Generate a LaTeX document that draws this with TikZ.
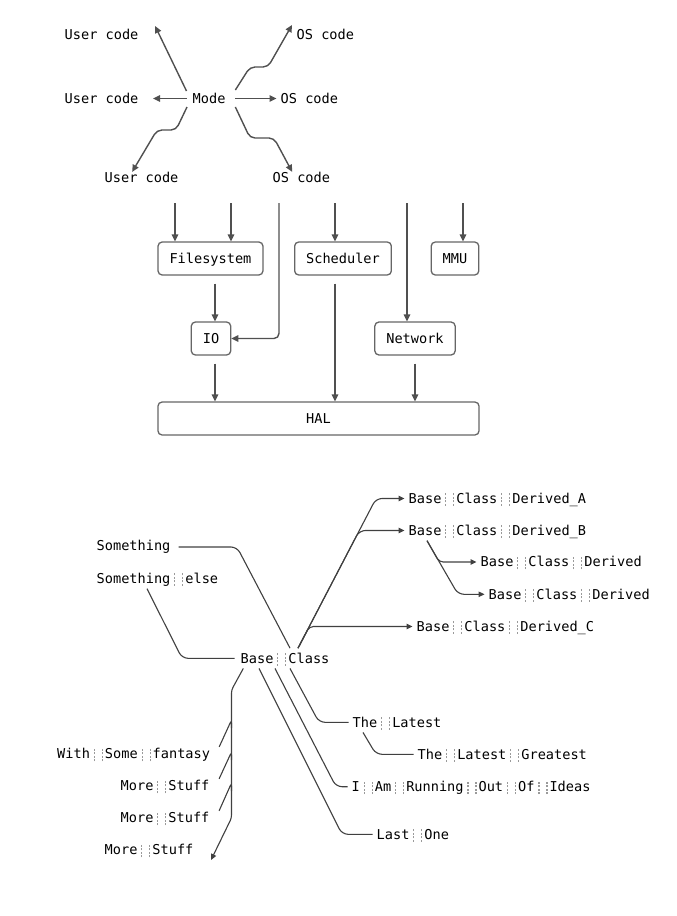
\documentclass[tikz,border=0pt]{standalone}
\usepackage{fontspec}
\setmonofont{DejaVu Sans Mono}
\usetikzlibrary{arrows.meta,calc}
\definecolor{linec}{HTML}{505050}
\definecolor{linecb}{HTML}{404040}
\definecolor{boxc}{HTML}{666666}
\definecolor{sepc}{HTML}{9A9A9A}
\newcommand\dotcol{\lower2.5pt\vbox to 14pt{\cleaders\vbox to 3.5pt{\vss\hrule height 2pt width 1.1pt}\vfill}}
\newcommand\wsep{\hspace{3.9pt}{\color{sepc}\dotcol}\hspace{6.9pt}{\color{sepc}\dotcol}\hspace{2.0pt}}
\tikzset{
  basefont/.style={font=\ttfamily\fontsize{13.6}{16}\selectfont, text=black},
  lbl/.style={basefont, inner sep=0pt, text height=9.9pt, text depth=0pt, anchor=west},
  boxnode/.style={basefont, draw=boxc, line width=1.3pt, rounded corners=4pt, fill=white,
    inner xsep=11.5pt, inner ysep=11.5pt, text height=9.9pt, text depth=0pt},
  tag/.style={basefont, inner xsep=4pt, inner ysep=5pt, text height=9.9pt, text depth=0pt, anchor=west},
  link/.style={draw=linec, line width=1.4pt, rounded corners=5pt},
  arr/.style={link, -{Triangle[length=7pt,width=6.5pt]}},
  thinlink/.style={draw=linecb, line width=1.1pt, rounded corners=6pt},
  tarr/.style={thinlink, -{Triangle[length=6pt,width=5.5pt]}},
}
\begin{document}
\begin{tikzpicture}[x=1pt,y=-1pt]
\useasboundingbox (0,0) rectangle (677,916);

% ---------- top: Mode ----------
\node[lbl] (uc1) at (64.5,34.5) {User code};
\node[lbl] (oc1) at (296.5,34.5) {OS code};
\node[lbl] (uc2) at (64.5,98.5) {User code};
\node[lbl] (mode) at (192.5,98.5) {Mode};
\node[lbl] (oc2) at (280.5,98.5) {OS code};
\node[lbl] (uc3) at (104.5,178) {User code};
\node[lbl] (oc3) at (272.5,178) {OS code};

\draw[arr] ($(mode.west)+(-6,-7.5)$) -- ($(uc1.east)+(16.5,-8.5)$);
\draw[arr] ($(mode.west)+(-6,0)$) -- ($(uc2.east)+(14.5,0)$);
\draw[arr] ($(mode.east)+(9.7,0)$) -- ($(oc2.west)+(-4,0)$);
\draw[arr] ($(mode.east)+(9.7,-8.5)$) -- (250,67) -- (268,67) -- ($(oc1.west)+(-4.5,-9.5)$);
\draw[arr] ($(mode.west)+(-5.5,8.5)$) -- (176,130) -- (157,130) -- ($(uc3.north)+(-9.4,-1)$);
\draw[arr] ($(mode.east)+(9.7,8.5)$) -- (250,138) -- (274,138) -- ($(oc3.north)+(-9.2,-1)$);

% ---------- middle: boxes ----------
\node[boxnode] (fs) at (210.5,258.5) {Filesystem};
\node[boxnode] (sch) at (343,258.5) {Scheduler};
\node[boxnode] (mmu) at (455,258.5) {MMU};
\node[boxnode] (io) at (211,338.5) {IO};
\node[boxnode] (net) at (415,338.5) {Network};
\node[boxnode, minimum width=321pt] (hal) at (318.5,418.5) {HAL};

\coordinate (in1) at (175,203);
\coordinate (in2) at (231,203);
\coordinate (in3) at (279,203);
\coordinate (in4) at (335,203);
\coordinate (in5) at (407,203);
\coordinate (in6) at (463,203);
\draw[arr] (in1) -- (in1 |- fs.north);
\draw[arr] (in2) -- (in2 |- fs.north);
\draw[arr] (in3) |- (io.east);
\draw[arr] (in4) -- (in4 |- sch.north);
\draw[arr] (in5) -- (in5 |- net.north);
\draw[arr] (in6) -- (in6 |- mmu.north);
\draw[arr] ($(fs.south)+(4.5,8)$) -- ($(io.north)+(4,0)$);
\draw[arr] ($(io.south)+(4,8)$) -- ($(hal.north)+(-103.5,0)$);
\draw[arr] ($(sch.south)+(-8,8)$) -- ($(hal.north)+(16.5,0)$);
\draw[arr] ($(net.south)+(0,8)$) -- ($(hal.north)+(96.5,0)$);

% ---------- bottom: Base Class ----------
\node[tag] (derA) at (404.5,498.5) {Base\wsep Class\wsep Derived\_A};
\node[tag] (derB) at (404.5,530.5) {Base\wsep Class\wsep Derived\_B};
\node[tag] (der1) at (476.5,562) {Base\wsep Class\wsep Derived};
\node[tag] (der2) at (484.5,594.3) {Base\wsep Class\wsep Derived};
\node[tag] (derC) at (412.5,626.5) {Base\wsep Class\wsep Derived\_C};
\node[tag] (sth) at (92.5,546) {Something};
\node[tag] (sel) at (92.5,578.5) {Something\wsep else};
\node[tag, inner xsep=6pt] (bc) at (234.5,658.3) {Base\wsep Class};
\node[tag] (lat) at (348.5,722.3) {The\wsep Latest};
\node[tag] (grt) at (413.5,754.3) {The\wsep Latest\wsep Greatest};
\node[tag] (ide) at (347.5,786.7) {I\wsep Am\wsep Running\wsep Out\wsep Of\wsep Ideas};
\node[tag] (lst) at (372.5,834.3) {Last\wsep One};
\node[tag] (fan) at (53,754) {With\wsep Some\wsep fantasy};
\node[tag] (mo1) at (116.5,786) {More\wsep Stuff};
\node[tag] (mo2) at (116.5,818) {More\wsep Stuff};
\node[tag] (mo3) at (100.5,850) {More\wsep Stuff};

\draw[thinlink] ($(sth.east)+(4,1)$) -- (237,547) -- ($(bc.north west)+(55.5,0)$);
\draw[thinlink] ($(sel.south west)+(54.5,0)$) -- (182,658.3) -- (bc.west);

\coordinate (dA) at ($(bc.north west)+(63.5,0)$);
\draw[tarr] (dA) -- (376,498.5) -- (derA.west);
\draw[tarr] (dA) -- (359.3,530.5) -- (derB.west);
\draw[tarr, rounded corners=4pt] (dA) -- (309.4,626.5) -- (derC.west);

\coordinate (dB) at ($(derB.south west)+(22.5,0)$);
\draw[tarr] (dB) -- (458,594.3) -- (der2.west);
\draw[tarr, rounded corners=4pt] (dB) -- (439.2,562) -- (der1.west);

\draw[thinlink] ($(bc.south west)+(55.5,0)$) -- (319,722.3) -- (lat.west);
\draw[thinlink] ($(lat.south west)+(14.5,0)$) -- (376,754.3) -- (grt.west);
\draw[thinlink] ($(bc.south west)+(40.5,0)$) -- (336,786.7) -- (ide.west);
\draw[thinlink] ($(bc.south west)+(24.5,0)$) -- (342,834.3) -- (lst.west);

\coordinate (mend) at (211,860);
\draw[tarr, rounded corners=3pt] ($(bc.south west)+(8.8,0)$) -- (231.5,690) -- (231.5,818) -- (mend);
\draw[thinlink, rounded corners=3pt] ($(fan.north east)+(5,3)$) -- (231.5,720) -- (231.5,728);
\draw[thinlink, rounded corners=3pt] ($(mo1.north east)+(5.5,3)$) -- (231.5,752) -- (231.5,760);
\draw[thinlink, rounded corners=3pt] ($(mo2.north east)+(5.5,3)$) -- (231.5,783) -- (231.5,791);
\end{tikzpicture}
\end{document}
